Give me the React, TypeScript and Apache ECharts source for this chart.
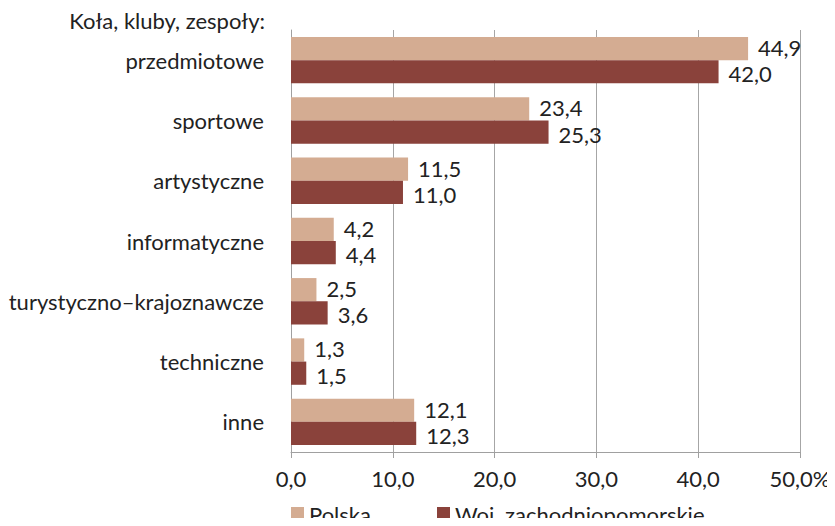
import React, { useEffect, useRef } from "react";
import * as echarts from "echarts";

const categories = [
  "przedmiotowe",
  "sportowe",
  "artystyczne",
  "informatyczne",
  "turystyczno\u2013krajoznawcze",
  "techniczne",
  "inne",
];
const polska = [44.9, 23.4, 11.5, 4.2, 2.5, 1.3, 12.1];
const zachodniopomorskie = [42.0, 25.3, 11.0, 4.4, 3.6, 1.5, 12.3];
const seriesNames = ["Polska", "Woj. zachodniopomorskie"];
const titleText = "Koła, kluby, zespoły:";

const FONT = "Lato, 'Open Sans', sans-serif";
const FS = 22;
const TXT = "#222222";
const fmt = (v: number) => v.toFixed(1).replace(".", ",");

export default function App() {
  const ref = useRef<HTMLDivElement>(null);
  useEffect(() => {
    if (!ref.current) return;
    const chart = echarts.init(ref.current, undefined, { renderer: "svg" });
    const makeLabel = (dy: number) => ({
      show: true,
      position: "right" as const,
      distance: 10,
      offset: [0, dy],
      color: TXT,
      fontSize: FS,
      lineHeight: 20,
      fontFamily: FONT,
      formatter: (p: any) => fmt(p.value),
    });
    const legendText = { fontSize: FS, color: TXT, fontFamily: FONT };
    chart.setOption({
      animation: false,
      textStyle: { fontFamily: FONT },
      title: {
        text: titleText,
        right: 835 - 265,
        top: 9,
        padding: 0,
        textStyle: { fontSize: FS, fontWeight: "normal", color: TXT, fontFamily: FONT },
      },
      legend: [
        {
          left: 291,
          top: 503,
          padding: 0,
          itemWidth: 13,
          itemHeight: 14,
          itemGap: 6,
          icon: "rect",
          textStyle: legendText,
          data: [seriesNames[0]],
        },
        {
          left: 437,
          top: 503,
          padding: 0,
          itemWidth: 13,
          itemHeight: 14,
          icon: "rect",
          textStyle: legendText,
          data: [seriesNames[1]],
        },
      ],
      grid: { left: 291, right: 35, top: 30, bottom: 74 },
      xAxis: {
        type: "value",
        min: 0,
        max: 50,
        interval: 10,
        axisLine: { show: true, lineStyle: { color: "#a0a0a0" } },
        axisTick: { show: true, length: 6, lineStyle: { color: "#a0a0a0" } },
        splitLine: { show: true, lineStyle: { color: "#a6a6a6" } },
        axisLabel: {
          fontSize: FS,
          color: TXT,
          fontFamily: FONT,
          margin: 15,
          formatter: (v: number) => (v === 50 ? fmt(v) + "%" : fmt(v)),
        },
      },
      yAxis: {
        type: "category",
        inverse: true,
        data: categories,
        axisLine: { show: true, lineStyle: { color: "#a0a0a0" } },
        axisTick: { show: false },
        axisLabel: { fontSize: FS, color: TXT, fontFamily: FONT, margin: 27 },
      },
      series: [
        {
          name: seriesNames[0],
          type: "bar",
          data: polska,
          itemStyle: { color: "#D4AC92" },
          barGap: "0%",
          barCategoryGap: "23%",
          label: makeLabel(-1),
        },
        {
          name: seriesNames[1],
          type: "bar",
          data: zachodniopomorskie,
          itemStyle: { color: "#8A423B" },
          barGap: "0%",
          barCategoryGap: "23%",
          label: makeLabel(2),
        },
      ],
    });
    return () => chart.dispose();
  }, []);
  return <div ref={ref} style={{ width: 835, height: 526, margin: -8 }} />;
}
